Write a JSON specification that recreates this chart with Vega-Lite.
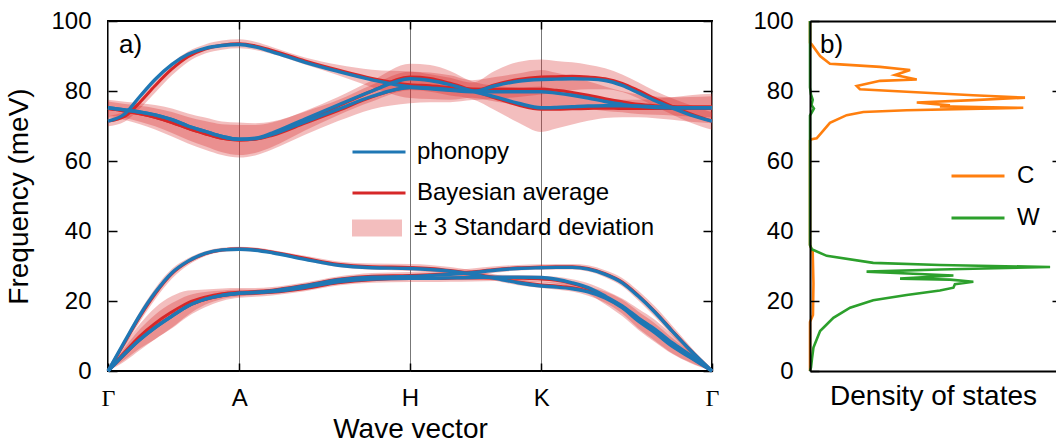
{
  "$schema": "https://vega.github.io/schema/vega-lite/v6.json",
  "padding": {"left": 4, "top": 8, "right": 0, "bottom": 0},
  "datasets": {
    "bands": [
      {"k":0,"b":1,"ph":0,"ba":0,"lo":0,"hi":0},
      {"k":0.143,"b":1,"ph":8.6,"ba":8.3,"lo":7.3,"hi":9.3},
      {"k":0.27,"b":1,"ph":16.0,"ba":15.6,"lo":14.1,"hi":17.1},
      {"k":0.397,"b":1,"ph":22.4,"ba":22.0,"lo":20.4,"hi":23.6},
      {"k":0.54,"b":1,"ph":28.1,"ba":27.8,"lo":26.4,"hi":29.2},
      {"k":0.675,"b":1,"ph":31.4,"ba":31.2,"lo":30.2,"hi":32.2},
      {"k":0.819,"b":1,"ph":33.6,"ba":33.5,"lo":32.8,"hi":34.2},
      {"k":0.962,"b":1,"ph":34.6,"ba":34.6,"lo":34.0,"hi":35.2},
      {"k":1.107,"b":1,"ph":34.8,"ba":34.9,"lo":34.3,"hi":35.5},
      {"k":1.241,"b":1,"ph":34.5,"ba":34.7,"lo":34.1,"hi":35.3},
      {"k":1.384,"b":1,"ph":33.8,"ba":34.0,"lo":33.4,"hi":34.6},
      {"k":1.662,"b":1,"ph":31.9,"ba":32.2,"lo":31.5,"hi":32.9},
      {"k":1.941,"b":1,"ph":30.2,"ba":30.5,"lo":29.7,"hi":31.3},
      {"k":2.228,"b":1,"ph":29.5,"ba":29.8,"lo":28.9,"hi":30.7},
      {"k":2.548,"b":1,"ph":29.3,"ba":29.6,"lo":28.6,"hi":30.6},
      {"k":2.717,"b":1,"ph":29.0,"ba":29.3,"lo":28.3,"hi":30.3},
      {"k":2.886,"b":1,"ph":28.5,"ba":28.7,"lo":27.7,"hi":29.7},
      {"k":3.072,"b":1,"ph":27.6,"ba":27.8,"lo":26.8,"hi":28.8},
      {"k":3.266,"b":1,"ph":26.5,"ba":26.7,"lo":25.8,"hi":27.6},
      {"k":3.46,"b":1,"ph":25.2,"ba":25.4,"lo":24.5,"hi":26.3},
      {"k":3.655,"b":1,"ph":24.3,"ba":24.6,"lo":23.7,"hi":25.5},
      {"k":3.781,"b":1,"ph":24.0,"ba":24.3,"lo":23.3,"hi":25.3},
      {"k":3.916,"b":1,"ph":23.5,"ba":23.8,"lo":22.7,"hi":24.9},
      {"k":4.051,"b":1,"ph":22.6,"ba":22.8,"lo":21.5,"hi":24.1},
      {"k":4.194,"b":1,"ph":20.9,"ba":21.1,"lo":19.5,"hi":22.7},
      {"k":4.338,"b":1,"ph":18.1,"ba":18.4,"lo":16.4,"hi":20.4},
      {"k":4.473,"b":1,"ph":14.3,"ba":14.6,"lo":12.2,"hi":17.0},
      {"k":4.616,"b":1,"ph":10.9,"ba":11.1,"lo":8.6,"hi":13.6},
      {"k":4.759,"b":1,"ph":7.1,"ba":7.3,"lo":5.1,"hi":9.5},
      {"k":4.911,"b":1,"ph":3.9,"ba":4.0,"lo":2.5,"hi":5.5},
      {"k":5.096,"b":1,"ph":0,"ba":0,"lo":0,"hi":0},

      {"k":0,"b":2,"ph":0,"ba":0,"lo":0,"hi":0},
      {"k":0.143,"b":2,"ph":5.0,"ba":5.5,"lo":3.3,"hi":7.7},
      {"k":0.27,"b":2,"ph":9.0,"ba":10.0,"lo":6.5,"hi":13.5},
      {"k":0.397,"b":2,"ph":12.4,"ba":13.6,"lo":9.1,"hi":18.1},
      {"k":0.54,"b":2,"ph":15.7,"ba":16.9,"lo":12.4,"hi":21.4},
      {"k":0.675,"b":2,"ph":18.6,"ba":19.5,"lo":16.0,"hi":23.0},
      {"k":0.819,"b":2,"ph":20.5,"ba":21.1,"lo":18.9,"hi":23.3},
      {"k":0.962,"b":2,"ph":21.6,"ba":22.1,"lo":20.6,"hi":23.6},
      {"k":1.107,"b":2,"ph":22.2,"ba":22.5,"lo":21.3,"hi":23.7},
      {"k":1.241,"b":2,"ph":22.5,"ba":22.7,"lo":21.7,"hi":23.7},
      {"k":1.384,"b":2,"ph":22.9,"ba":23.1,"lo":22.2,"hi":24.0},
      {"k":1.662,"b":2,"ph":24.3,"ba":24.5,"lo":23.7,"hi":25.3},
      {"k":1.941,"b":2,"ph":26.0,"ba":26.2,"lo":25.4,"hi":27.0},
      {"k":2.228,"b":2,"ph":26.8,"ba":27.1,"lo":26.2,"hi":28.0},
      {"k":2.548,"b":2,"ph":27.0,"ba":27.3,"lo":26.3,"hi":28.3},
      {"k":2.717,"b":2,"ph":27.3,"ba":27.5,"lo":26.5,"hi":28.5},
      {"k":2.886,"b":2,"ph":27.6,"ba":27.8,"lo":26.8,"hi":28.8},
      {"k":3.072,"b":2,"ph":28.1,"ba":28.3,"lo":27.3,"hi":29.3},
      {"k":3.266,"b":2,"ph":28.8,"ba":29.0,"lo":28.1,"hi":29.9},
      {"k":3.46,"b":2,"ph":29.3,"ba":29.5,"lo":28.7,"hi":30.3},
      {"k":3.655,"b":2,"ph":29.5,"ba":29.7,"lo":28.9,"hi":30.5},
      {"k":3.781,"b":2,"ph":29.6,"ba":29.8,"lo":29.0,"hi":30.6},
      {"k":3.916,"b":2,"ph":29.6,"ba":29.8,"lo":29.0,"hi":30.6},
      {"k":4.051,"b":2,"ph":29.1,"ba":29.3,"lo":28.4,"hi":30.2},
      {"k":4.194,"b":2,"ph":27.6,"ba":27.8,"lo":26.8,"hi":28.8},
      {"k":4.338,"b":2,"ph":25.2,"ba":25.4,"lo":24.2,"hi":26.6},
      {"k":4.473,"b":2,"ph":21.4,"ba":21.6,"lo":20.2,"hi":23.0},
      {"k":4.616,"b":2,"ph":16.7,"ba":16.9,"lo":15.4,"hi":18.4},
      {"k":4.759,"b":2,"ph":11.4,"ba":11.6,"lo":10.2,"hi":13.0},
      {"k":4.911,"b":2,"ph":6.0,"ba":6.1,"lo":5.1,"hi":7.1},
      {"k":5.096,"b":2,"ph":0,"ba":0,"lo":0,"hi":0},

      {"k":0,"b":3,"ph":0,"ba":0,"lo":0,"hi":0},
      {"k":0.143,"b":3,"ph":5.0,"ba":4.8,"lo":2.8,"hi":6.8},
      {"k":0.27,"b":3,"ph":9.0,"ba":9.0,"lo":6.0,"hi":12.0},
      {"k":0.397,"b":3,"ph":12.4,"ba":12.6,"lo":9.1,"hi":16.1},
      {"k":0.54,"b":3,"ph":15.7,"ba":15.8,"lo":12.2,"hi":19.4},
      {"k":0.675,"b":3,"ph":18.6,"ba":18.6,"lo":15.6,"hi":21.6},
      {"k":0.819,"b":3,"ph":20.5,"ba":20.4,"lo":18.2,"hi":22.6},
      {"k":0.962,"b":3,"ph":21.6,"ba":21.5,"lo":20.0,"hi":23.0},
      {"k":1.107,"b":3,"ph":22.2,"ba":22.1,"lo":20.9,"hi":23.3},
      {"k":1.241,"b":3,"ph":22.4,"ba":22.2,"lo":21.2,"hi":23.2},
      {"k":1.384,"b":3,"ph":22.7,"ba":22.5,"lo":21.6,"hi":23.4},
      {"k":1.662,"b":3,"ph":23.9,"ba":23.6,"lo":22.8,"hi":24.4},
      {"k":1.941,"b":3,"ph":25.5,"ba":25.2,"lo":24.4,"hi":26.0},
      {"k":2.228,"b":3,"ph":26.3,"ba":26.1,"lo":25.2,"hi":27.0},
      {"k":2.548,"b":3,"ph":26.5,"ba":26.4,"lo":25.4,"hi":27.4},
      {"k":2.717,"b":3,"ph":26.5,"ba":26.4,"lo":25.4,"hi":27.4},
      {"k":2.886,"b":3,"ph":26.6,"ba":26.5,"lo":25.5,"hi":27.5},
      {"k":3.072,"b":3,"ph":26.7,"ba":26.6,"lo":25.6,"hi":27.6},
      {"k":3.266,"b":3,"ph":26.8,"ba":26.6,"lo":25.7,"hi":27.5},
      {"k":3.46,"b":3,"ph":26.8,"ba":26.5,"lo":25.6,"hi":27.4},
      {"k":3.655,"b":3,"ph":26.7,"ba":26.3,"lo":25.4,"hi":27.2},
      {"k":3.781,"b":3,"ph":26.2,"ba":25.9,"lo":24.9,"hi":26.9},
      {"k":3.916,"b":3,"ph":25.2,"ba":25.0,"lo":23.8,"hi":26.2},
      {"k":4.051,"b":3,"ph":23.8,"ba":23.6,"lo":22.1,"hi":25.1},
      {"k":4.194,"b":3,"ph":21.4,"ba":21.1,"lo":19.1,"hi":23.1},
      {"k":4.338,"b":3,"ph":18.6,"ba":18.2,"lo":15.7,"hi":20.7},
      {"k":4.473,"b":3,"ph":15.2,"ba":14.8,"lo":11.8,"hi":17.8},
      {"k":4.616,"b":3,"ph":11.9,"ba":11.4,"lo":8.2,"hi":14.6},
      {"k":4.759,"b":3,"ph":8.1,"ba":7.7,"lo":4.9,"hi":10.5},
      {"k":4.911,"b":3,"ph":4.6,"ba":4.3,"lo":2.3,"hi":6.3},
      {"k":5.096,"b":3,"ph":0,"ba":0,"lo":0,"hi":0},

      {"k":0,"b":4,"ph":71.4,"ba":71.4,"lo":69.9,"hi":72.9},
      {"k":0.143,"b":4,"ph":73.5,"ba":72.8,"lo":71.3,"hi":74.3},
      {"k":0.27,"b":4,"ph":78.5,"ba":76.8,"lo":75.0,"hi":78.6},
      {"k":0.397,"b":4,"ph":83.3,"ba":81.5,"lo":79.5,"hi":83.5},
      {"k":0.54,"b":4,"ph":87.6,"ba":86.3,"lo":84.5,"hi":88.1},
      {"k":0.675,"b":4,"ph":90.5,"ba":89.8,"lo":88.3,"hi":91.3},
      {"k":0.819,"b":4,"ph":92.2,"ba":92.0,"lo":90.7,"hi":93.3},
      {"k":0.962,"b":4,"ph":93.0,"ba":93.1,"lo":91.8,"hi":94.4},
      {"k":1.107,"b":4,"ph":93.3,"ba":93.5,"lo":92.2,"hi":94.8},
      {"k":1.241,"b":4,"ph":92.6,"ba":92.9,"lo":91.7,"hi":94.1},
      {"k":1.384,"b":4,"ph":91.2,"ba":91.6,"lo":90.6,"hi":92.6},
      {"k":1.662,"b":4,"ph":88.2,"ba":88.6,"lo":87.6,"hi":89.6},
      {"k":1.941,"b":4,"ph":85.6,"ba":86.0,"lo":84.5,"hi":87.5},
      {"k":2.228,"b":4,"ph":83.2,"ba":83.6,"lo":81.1,"hi":86.1},
      {"k":2.548,"b":4,"ph":81.2,"ba":81.8,"lo":78.0,"hi":85.6},
      {"k":2.717,"b":4,"ph":80.9,"ba":81.5,"lo":77.7,"hi":85.3},
      {"k":2.886,"b":4,"ph":80.4,"ba":81.0,"lo":77.5,"hi":84.5},
      {"k":3.072,"b":4,"ph":80.0,"ba":80.6,"lo":78.1,"hi":83.1},
      {"k":3.266,"b":4,"ph":79.8,"ba":80.5,"lo":77.0,"hi":84.0},
      {"k":3.46,"b":4,"ph":79.8,"ba":80.5,"lo":76.0,"hi":85.0},
      {"k":3.655,"b":4,"ph":79.8,"ba":80.5,"lo":75.0,"hi":86.0},
      {"k":3.781,"b":4,"ph":79.4,"ba":80.2,"lo":75.2,"hi":85.2},
      {"k":3.916,"b":4,"ph":78.8,"ba":79.6,"lo":75.1,"hi":84.1},
      {"k":4.051,"b":4,"ph":78.0,"ba":78.8,"lo":74.8,"hi":82.8},
      {"k":4.194,"b":4,"ph":77.0,"ba":77.8,"lo":74.3,"hi":81.3},
      {"k":4.338,"b":4,"ph":76.2,"ba":76.9,"lo":73.9,"hi":79.9},
      {"k":4.473,"b":4,"ph":75.6,"ba":76.2,"lo":73.4,"hi":79.0},
      {"k":4.616,"b":4,"ph":75.3,"ba":75.8,"lo":73.2,"hi":78.4},
      {"k":4.759,"b":4,"ph":75.2,"ba":75.6,"lo":73.0,"hi":78.2},
      {"k":4.911,"b":4,"ph":75.2,"ba":75.5,"lo":72.7,"hi":78.3},
      {"k":5.096,"b":4,"ph":75.2,"ba":75.5,"lo":72.5,"hi":78.5},

      {"k":0,"b":5,"ph":75.2,"ba":75.0,"lo":73.0,"hi":77.0},
      {"k":0.143,"b":5,"ph":74.6,"ba":74.3,"lo":72.3,"hi":76.3},
      {"k":0.27,"b":5,"ph":74.0,"ba":73.5,"lo":71.2,"hi":75.8},
      {"k":0.397,"b":5,"ph":73.2,"ba":72.5,"lo":69.9,"hi":75.1},
      {"k":0.54,"b":5,"ph":71.8,"ba":71.0,"lo":68.0,"hi":74.0},
      {"k":0.675,"b":5,"ph":70.0,"ba":69.3,"lo":66.0,"hi":72.6},
      {"k":0.819,"b":5,"ph":68.5,"ba":67.8,"lo":64.2,"hi":71.4},
      {"k":0.962,"b":5,"ph":67.0,"ba":66.5,"lo":62.5,"hi":70.5},
      {"k":1.107,"b":5,"ph":66.2,"ba":66.0,"lo":61.7,"hi":70.3},
      {"k":1.241,"b":5,"ph":66.5,"ba":66.3,"lo":62.3,"hi":70.3},
      {"k":1.384,"b":5,"ph":68.0,"ba":67.5,"lo":64.0,"hi":71.0},
      {"k":1.662,"b":5,"ph":72.0,"ba":71.5,"lo":68.7,"hi":74.3},
      {"k":1.941,"b":5,"ph":76.0,"ba":75.7,"lo":73.1,"hi":78.3},
      {"k":2.228,"b":5,"ph":80.0,"ba":80.0,"lo":77.0,"hi":83.0},
      {"k":2.548,"b":5,"ph":83.5,"ba":84.0,"lo":80.2,"hi":87.8},
      {"k":2.717,"b":5,"ph":83.0,"ba":83.6,"lo":79.8,"hi":87.4},
      {"k":2.886,"b":5,"ph":81.8,"ba":82.2,"lo":78.7,"hi":85.7},
      {"k":3.072,"b":5,"ph":80.0,"ba":80.2,"lo":77.7,"hi":82.7},
      {"k":3.266,"b":5,"ph":78.3,"ba":78.0,"lo":74.5,"hi":81.5},
      {"k":3.46,"b":5,"ph":76.5,"ba":76.0,"lo":71.0,"hi":81.0},
      {"k":3.655,"b":5,"ph":75.2,"ba":74.8,"lo":68.3,"hi":81.3},
      {"k":3.781,"b":5,"ph":75.3,"ba":74.8,"lo":69.3,"hi":80.3},
      {"k":3.916,"b":5,"ph":75.5,"ba":74.9,"lo":70.4,"hi":79.4},
      {"k":4.051,"b":5,"ph":75.7,"ba":75.0,"lo":71.5,"hi":78.5},
      {"k":4.194,"b":5,"ph":75.8,"ba":75.1,"lo":72.3,"hi":77.9},
      {"k":4.338,"b":5,"ph":75.8,"ba":75.0,"lo":72.5,"hi":77.5},
      {"k":4.473,"b":5,"ph":75.7,"ba":75.0,"lo":72.5,"hi":77.5},
      {"k":4.616,"b":5,"ph":75.5,"ba":75.0,"lo":72.2,"hi":77.8},
      {"k":4.759,"b":5,"ph":75.3,"ba":75.0,"lo":71.8,"hi":78.2},
      {"k":4.911,"b":5,"ph":75.2,"ba":75.0,"lo":71.2,"hi":78.8},
      {"k":5.096,"b":5,"ph":75.2,"ba":75.0,"lo":70.8,"hi":79.2},

      {"k":0,"b":6,"ph":75.2,"ba":75.0,"lo":72.5,"hi":77.5},
      {"k":0.143,"b":6,"ph":74.6,"ba":74.3,"lo":71.7,"hi":76.9},
      {"k":0.27,"b":6,"ph":74.0,"ba":73.5,"lo":70.5,"hi":76.5},
      {"k":0.397,"b":6,"ph":73.2,"ba":72.5,"lo":69.0,"hi":76.0},
      {"k":0.54,"b":6,"ph":71.8,"ba":71.0,"lo":67.0,"hi":75.0},
      {"k":0.675,"b":6,"ph":70.0,"ba":69.3,"lo":65.0,"hi":73.6},
      {"k":0.819,"b":6,"ph":68.5,"ba":67.8,"lo":63.2,"hi":72.4},
      {"k":0.962,"b":6,"ph":67.0,"ba":66.5,"lo":61.7,"hi":71.3},
      {"k":1.107,"b":6,"ph":66.2,"ba":66.0,"lo":61.0,"hi":71.0},
      {"k":1.241,"b":6,"ph":66.4,"ba":66.2,"lo":61.6,"hi":70.8},
      {"k":1.384,"b":6,"ph":67.6,"ba":67.3,"lo":63.3,"hi":71.3},
      {"k":1.662,"b":6,"ph":71.2,"ba":70.8,"lo":67.5,"hi":74.1},
      {"k":1.941,"b":6,"ph":74.8,"ba":74.4,"lo":71.4,"hi":77.4},
      {"k":2.228,"b":6,"ph":78.5,"ba":78.3,"lo":74.8,"hi":81.8},
      {"k":2.548,"b":6,"ph":81.0,"ba":81.0,"lo":76.5,"hi":85.5},
      {"k":2.717,"b":6,"ph":80.6,"ba":80.8,"lo":76.8,"hi":84.8},
      {"k":2.886,"b":6,"ph":80.2,"ba":80.3,"lo":76.8,"hi":83.8},
      {"k":3.072,"b":6,"ph":79.8,"ba":79.9,"lo":77.4,"hi":82.4},
      {"k":3.266,"b":6,"ph":81.5,"ba":81.8,"lo":77.8,"hi":85.8},
      {"k":3.46,"b":6,"ph":82.8,"ba":83.3,"lo":78.3,"hi":88.3},
      {"k":3.655,"b":6,"ph":83.3,"ba":84.0,"lo":79.0,"hi":89.0},
      {"k":3.781,"b":6,"ph":83.4,"ba":84.1,"lo":79.6,"hi":88.6},
      {"k":3.916,"b":6,"ph":83.5,"ba":84.2,"lo":80.2,"hi":88.2},
      {"k":4.051,"b":6,"ph":83.4,"ba":84.0,"lo":80.5,"hi":87.5},
      {"k":4.194,"b":6,"ph":83.0,"ba":83.5,"lo":80.5,"hi":86.5},
      {"k":4.338,"b":6,"ph":81.6,"ba":82.2,"lo":79.7,"hi":84.7},
      {"k":4.473,"b":6,"ph":79.5,"ba":80.2,"lo":77.9,"hi":82.5},
      {"k":4.616,"b":6,"ph":77.2,"ba":77.8,"lo":75.6,"hi":80.0},
      {"k":4.759,"b":6,"ph":75.2,"ba":75.6,"lo":73.3,"hi":77.9},
      {"k":4.911,"b":6,"ph":73.2,"ba":73.5,"lo":71.0,"hi":76.0},
      {"k":5.096,"b":6,"ph":71.4,"ba":71.4,"lo":68.9,"hi":73.9}
    ],
    "dos": [
      {"el":"C","f":0,"d":0},{"el":"C","f":14,"d":0},{"el":"C","f":16,"d":0.012},{"el":"C","f":25,"d":0.014},
      {"el":"C","f":34,"d":0.011},{"el":"C","f":36,"d":0},{"el":"C","f":65.8,"d":0},{"el":"C","f":66.2,"d":0.007},
      {"el":"C","f":66.5,"d":0.027},{"el":"C","f":68.1,"d":0.047},{"el":"C","f":70.9,"d":0.081},{"el":"C","f":73.1,"d":0.149},
      {"el":"C","f":74.0,"d":0.217},{"el":"C","f":74.5,"d":0.393},{"el":"C","f":75.2,"d":0.867},{"el":"C","f":75.6,"d":0.528},
      {"el":"C","f":75.9,"d":0.569},{"el":"C","f":76.7,"d":0.434},{"el":"C","f":77.4,"d":0.664},{"el":"C","f":78.1,"d":0.874},
      {"el":"C","f":78.8,"d":0.663},{"el":"C","f":79.8,"d":0.393},{"el":"C","f":80.5,"d":0.203},{"el":"C","f":81.4,"d":0.19},
      {"el":"C","f":82.9,"d":0.285},{"el":"C","f":83.3,"d":0.434},{"el":"C","f":84.6,"d":0.346},{"el":"C","f":86.0,"d":0.407},
      {"el":"C","f":86.9,"d":0.285},{"el":"C","f":87.6,"d":0.122},{"el":"C","f":87.8,"d":0.081},{"el":"C","f":90.0,"d":0.041},
      {"el":"C","f":93.3,"d":0.007},{"el":"C","f":93.8,"d":0},{"el":"C","f":100,"d":0},
      {"el":"W","f":0,"d":0},{"el":"W","f":1,"d":0.004},{"el":"W","f":3.5,"d":0.008},{"el":"W","f":6.7,"d":0.014},
      {"el":"W","f":11.4,"d":0.041},{"el":"W","f":15.2,"d":0.095},{"el":"W","f":18.1,"d":0.163},{"el":"W","f":20.2,"d":0.257},
      {"el":"W","f":21.7,"d":0.393},{"el":"W","f":23.0,"d":0.528},{"el":"W","f":23.8,"d":0.583},{"el":"W","f":24.8,"d":0.589},
      {"el":"W","f":25.5,"d":0.664},{"el":"W","f":26.1,"d":0.569},{"el":"W","f":26.4,"d":0.366},{"el":"W","f":27.3,"d":0.583},
      {"el":"W","f":27.8,"d":0.42},{"el":"W","f":28.4,"d":0.23},{"el":"W","f":29.0,"d":0.528},{"el":"W","f":29.7,"d":0.976},
      {"el":"W","f":30.3,"d":0.528},{"el":"W","f":30.9,"d":0.257},{"el":"W","f":32.9,"d":0.068},{"el":"W","f":34.8,"d":0.007},
      {"el":"W","f":36,"d":0},{"el":"W","f":73,"d":0},{"el":"W","f":74,"d":0.008},{"el":"W","f":75,"d":0.016},
      {"el":"W","f":76,"d":0.006},{"el":"W","f":77.5,"d":0.011},{"el":"W","f":79,"d":0.004},{"el":"W","f":81,"d":0},
      {"el":"W","f":100,"d":0}
    ]
  },
  "hconcat": [
    {
      "width": 604,
      "height": 350,
      "title": {"text": "a)", "dx": 11, "dy": 53},
      "data": {"name": "bands"},
      "layer": [
        {
          "mark": {"type": "area", "opacity": 0.3, "interpolate": "monotone"},
          "encoding": {
            "x": {
              "field": "k", "type": "quantitative",
              "scale": {"domain": [0, 5.096], "nice": false, "zero": false},
              "axis": {
                "orient": "bottom", "values": [0, 1.107, 2.548, 3.655, 5.096],
                "labelExpr": "datum.value < 0.5 ? 'Γ' : datum.value < 1.5 ? 'A' : datum.value < 3 ? 'H' : datum.value < 4 ? 'K' : 'Γ'",
                "labelFont": {"condition": {"test": "datum.value < 0.5 || datum.value > 4.5", "value": "Liberation Serif"}, "value": "Liberation Sans"},
                "tickSize": -8, "labelPadding": 23, "grid": true, "gridColor": "#777777", "gridWidth": 1,
                "title": "Wave vector", "titlePadding": 5
              }
            },
            "y": {
              "field": "lo", "type": "quantitative",
              "scale": {"domain": [0, 100], "nice": false},
              "axis": {"orient": "left", "values": [0, 20, 40, 60, 80, 100], "tickSize": -9, "labelPadding": 26, "title": "Frequency (meV)", "titlePadding": 17}
            },
            "y2": {"field": "hi"},
            "detail": {"field": "b"},
            "fill": {
              "datum": "± 3 Standard deviation", "type": "nominal",
              "scale": {"range": ["#d62728"]},
              "legend": {"orient": "none", "legendX": 244, "legendY": 197, "title": null, "symbolType": "M-1,-0.34H1V0.34H-1Z", "symbolSize": 2500, "symbolOpacity": 0.3, "symbolStrokeWidth": 0, "labelOffset": 12, "clipHeight": 20, "labelLimit": 400}
            }
          }
        },
        {
          "mark": {"type": "line", "strokeWidth": 3, "interpolate": "monotone"},
          "encoding": {
            "x": {"field": "k", "type": "quantitative", "axis": null},
            "y": {"field": "ba", "type": "quantitative", "axis": null},
            "detail": {"field": "b"},
            "color": {
              "datum": "Bayesian average", "type": "nominal",
              "scale": {"domain": ["phonopy", "Bayesian average"], "range": ["#1f77b4", "#d62728"]},
              "legend": {"orient": "none", "legendX": 243, "legendY": 121, "title": null, "symbolType": "stroke", "symbolSize": 2809, "symbolStrokeWidth": 3, "labelOffset": 10, "rowPadding": 17, "clipHeight": 20, "labelLimit": 400}
            }
          }
        },
        {
          "mark": {"type": "line", "strokeWidth": 3.4, "interpolate": "monotone"},
          "encoding": {
            "x": {"field": "k", "type": "quantitative", "axis": null},
            "y": {"field": "ph", "type": "quantitative", "axis": null},
            "detail": {"field": "b"},
            "color": {
              "datum": "phonopy", "type": "nominal",
              "scale": {"domain": ["phonopy", "Bayesian average"], "range": ["#1f77b4", "#d62728"]},
              "legend": {"orient": "none", "legendX": 243, "legendY": 121, "title": null, "symbolType": "stroke", "symbolSize": 2809, "symbolStrokeWidth": 3, "labelOffset": 10, "rowPadding": 17, "clipHeight": 20, "labelLimit": 400}
            }
          }
        },
        {
          "mark": {"type": "point", "opacity": 0},
          "encoding": {
            "x": {"field": "k", "type": "quantitative", "axis": {"orient": "top", "values": [1.107, 2.548, 3.655], "tickSize": -8, "labels": false, "title": null}},
            "y": {"field": "ph", "type": "quantitative", "axis": {"orient": "right", "values": [0, 20, 40, 60, 80, 100], "tickSize": -9, "labels": false, "title": null}}
          }
        }
      ],
      "resolve": {"axis": {"x": "independent", "y": "independent"}}
    },
    {
      "width": 246,
      "height": 350,
      "view": {"stroke": null},
      "title": {"text": "b)", "dx": 10, "dy": 53},
      "data": {"name": "dos"},
      "layer": [
        {
          "mark": {"type": "line", "strokeWidth": 2.6},
          "encoding": {
            "x": {
              "field": "d", "type": "quantitative",
              "scale": {"domain": [0, 1], "nice": false},
              "axis": {"orient": "bottom", "domain": true, "ticks": false, "labels": false, "title": "Density of states", "titlePadding": 11, "zindex": 1}
            },
            "y": {
              "field": "f", "type": "quantitative",
              "scale": {"domain": [0, 100], "nice": false},
              "axis": {"orient": "left", "domain": true, "values": [0, 20, 40, 60, 80, 100], "tickSize": -9, "labelPadding": 26, "title": null, "zindex": 1}
            },
            "color": {
              "field": "el", "type": "nominal",
              "scale": {"domain": ["C", "W"], "range": ["#ff7f0e", "#2ca02c"]},
              "legend": {"orient": "none", "legendX": 140, "legendY": 145, "title": null, "symbolType": "stroke", "symbolSize": 2809, "symbolStrokeWidth": 3, "labelOffset": 11, "rowPadding": 18, "clipHeight": 20}
            },
            "order": {"field": "f", "type": "quantitative"}
          }
        },
        {
          "mark": {"type": "point", "opacity": 0},
          "encoding": {
            "x": {"field": "d", "type": "quantitative", "axis": {"orient": "top", "domain": true, "ticks": false, "labels": false, "title": null, "zindex": 1}},
            "y": {"field": "f", "type": "quantitative", "axis": {"orient": "right", "values": [20, 40, 60, 80], "tickSize": -4, "labels": false, "title": null}}
          }
        }
      ],
      "resolve": {"axis": {"x": "independent", "y": "independent"}}
    }
  ],
  "spacing": 98,
  "bounds": "flush",
  "resolve": {"scale": {"color": "independent"}, "legend": {"color": "independent"}},
  "config": {
    "font": "Liberation Sans",
    "view": {"stroke": "black", "strokeWidth": 2},
    "axis": {
      "minExtent": 0, "labelFont": "Liberation Sans", "titleFont": "Liberation Sans",
      "labelFontSize": 24, "titleFontSize": 28, "titleFontWeight": "normal",
      "labelColor": "black", "titleColor": "black", "tickColor": "black", "tickWidth": 1.5,
      "domain": false, "domainColor": "black", "domainWidth": 2, "grid": false,
      "labelFlush": false, "labelOverlap": false, "labelBound": false
    },
    "legend": {"labelFont": "Liberation Sans", "labelFontSize": 24, "labelColor": "black", "padding": 0},
    "title": {"font": "Liberation Sans", "fontSize": 26, "fontWeight": "normal", "color": "black", "anchor": "start", "frame": "group", "offset": 0, "baseline": "alphabetic"}
  }
}
